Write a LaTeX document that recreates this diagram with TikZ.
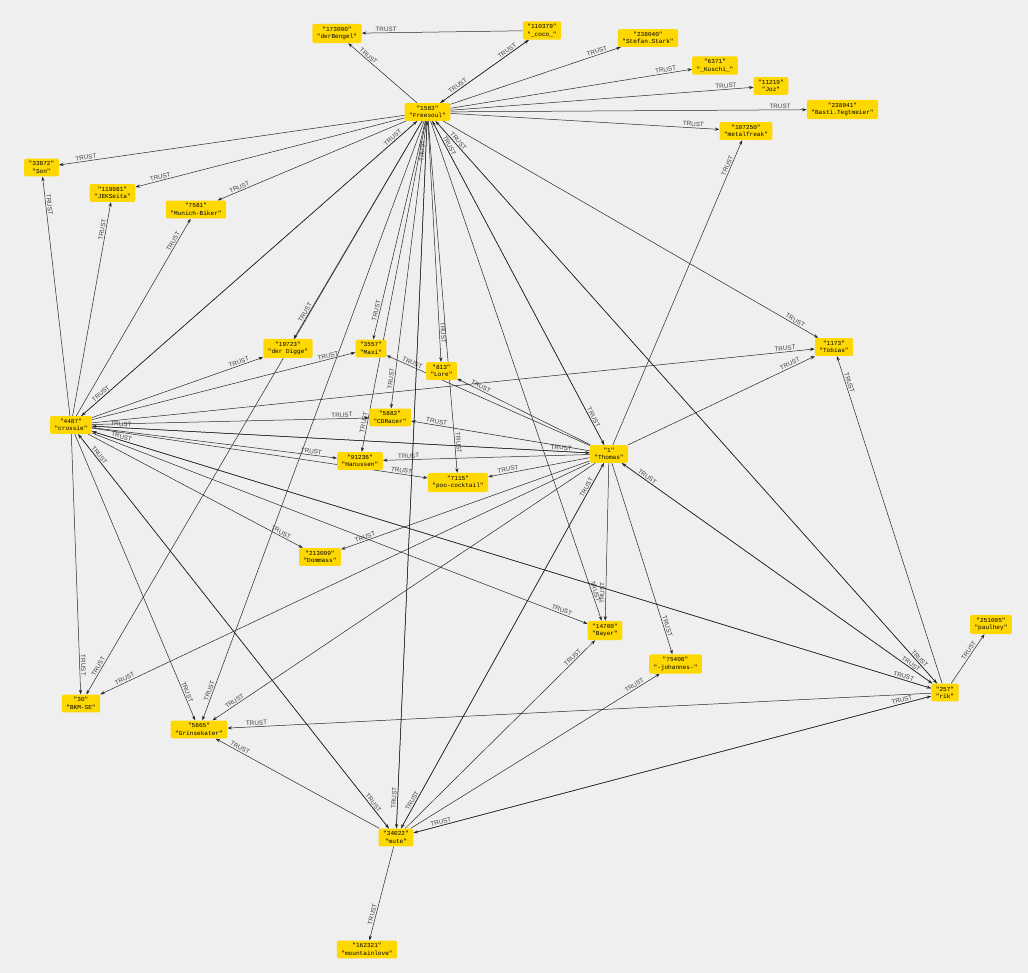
\documentclass[tikz,border=0pt]{standalone}
\usepackage{fontspec}
\setsansfont{Liberation Sans}
\newfontfamily\monofont{Liberation Mono}
\usetikzlibrary{arrows.meta,calc,backgrounds}
\definecolor{canvas}{HTML}{EFEFEF}
\definecolor{userfill}{HTML}{FFD800}

% TRUST edge from #1 to #2, label kept near the arrow tip
\newcommand{\trust}[2]{%
  \path let \p1=($(#2)-(#1)$) in
    \pgfextra{\pgfmathsetmacro\tmppos{1-31/veclen(\x1,\y1)}\xdef\trustpos{\tmppos}};
  \draw[rel] (#1) -- node[lbl, pos=\trustpos] {TRUST} (#2);}

\begin{document}
\begin{tikzpicture}[x=1pt, y=-1pt,
  user/.style={fill=userfill, rounded corners=2pt, align=center, inner xsep=4.5pt, inner ysep=3pt,
    font=\monofont\fontsize{6.1}{7.4}\selectfont},
  rel/.style={-{Stealth[length=4.5pt,width=3.2pt]}, draw=black!85, line width=0.5pt},
  lbl/.style={sloped, above, inner sep=1.2pt, text=black!75, font=\sffamily\fontsize{6.3}{7}\selectfont}]
  \useasboundingbox (0,0) rectangle (1028,973);

  \node[user] (derbengel) at (337,33.5) {"173090"\\"derBengel"};
  \node[user] (coco) at (542,30.5) {"110379"\\"\_coco\_"};
  \node[user] (stefan) at (648,38) {"238040"\\"Stefan.Stark"};
  \node[user] (kuschi) at (715,65.5) {"6371"\\"\_Kuschi\_"};
  \node[user] (joz) at (771,86) {"11219"\\"Joz"};
  \node[user] (basti) at (842.5,109.5) {"238041"\\"Basti.Tegtmeier"};
  \node[user] (freesoul) at (427.5,112) {"1583"\\"Freesoul"};
  \node[user] (metalfreak) at (746,131) {"107250"\\"metalfreak"};
  \node[user] (son) at (41.5,167.5) {"33872"\\"Son"};
  \node[user] (jekseita) at (112.5,193) {"119981"\\"JEKSeita"};
  \node[user] (munich) at (196,209.5) {"7581"\\"Munich-Biker"};
  \node[user] (digge) at (288,348.5) {"19723"\\"der Digge"};
  \node[user] (maxi) at (371,348.5) {"3557"\\"Maxi"};
  \node[user] (lore) at (441.5,371) {"813"\\"Lore"};
  \node[user] (tobias) at (834,347) {"1173"\\"Tobias"};
  \node[user] (crossie) at (71,425) {"4487"\\"crossie"};
  \node[user] (cdracer) at (390,417.5) {"5882"\\"CDRacer"};
  \node[user] (thomas) at (609,454) {"1"\\"Thomas"};
  \node[user] (hanussen) at (360,461) {"91236"\\"Hanussen"};
  \node[user] (poo) at (458,482.5) {"7115"\\"poo-cocktail"};
  \node[user] (dommass) at (320,557) {"213099"\\"Dommass"};
  \node[user] (bayer) at (605,630.5) {"14700"\\"Bayer"};
  \node[user] (johannes) at (675.5,664) {"75408"\\"-johannes-"};
  \node[user] (paulhey) at (991,624.5) {"251005"\\"paulhey"};
  \node[user] (bkm) at (81,703.5) {"30"\\"BKM-SE"};
  \node[user] (rik) at (945,692.5) {"257"\\"rik"};
  \node[user] (grinsekater) at (199,729.5) {"5865"\\"Grinsekater"};
  \node[user] (mute) at (396,837.5) {"34022"\\"mute"};
  \node[user] (mountainlove) at (367,949.5) {"162321"\\"mountainlove"};

  \begin{scope}[on background layer]
    \fill[canvas] (0,0) rectangle (1028,973);
    \foreach \dst in {derbengel,coco,stefan,kuschi,joz,basti,metalfreak,son,jekseita,munich,crossie,digge,bkm,grinsekater,maxi,lore,cdracer,hanussen,poo,thomas,bayer,rik,tobias,mute}
      \trust{freesoul}{\dst};
    \foreach \dst in {derbengel,freesoul}
      \trust{coco}{\dst};
    \foreach \dst in {son,jekseita,munich,freesoul,digge,maxi,tobias,cdracer,thomas,hanussen,poo,dommass,bayer,rik,bkm,grinsekater,mute}
      \trust{crossie}{\dst};
    \foreach \dst in {freesoul,crossie,metalfreak,tobias,lore,maxi,cdracer,hanussen,poo,dommass,bayer,johannes,bkm,grinsekater,mute,rik}
      \trust{thomas}{\dst};
    \foreach \dst in {freesoul,crossie,thomas,paulhey,tobias,grinsekater,mute}
      \trust{rik}{\dst};
    \foreach \dst in {freesoul,crossie,thomas,rik,johannes,bayer,grinsekater,mountainlove}
      \trust{mute}{\dst};
  \end{scope}
\end{tikzpicture}
\end{document}
